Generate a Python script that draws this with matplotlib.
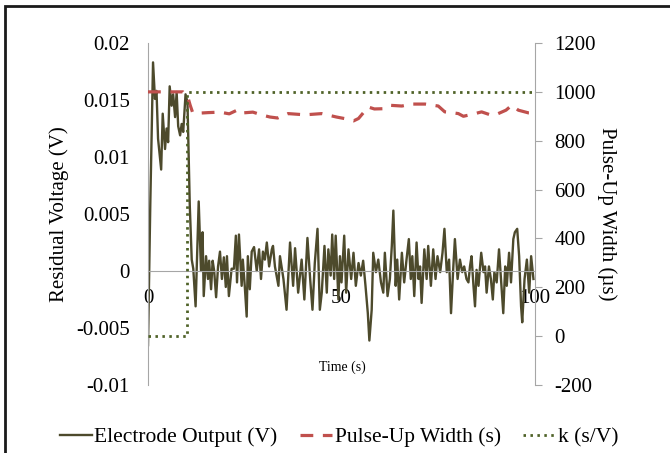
import matplotlib
matplotlib.use("Agg")
import matplotlib.pyplot as plt
from matplotlib.patches import Rectangle

plt.rcParams['font.family'] = ['Liberation Serif', 'DejaVu Serif']
plt.rcParams['axes.unicode_minus'] = False

# electrode output (V)
t_elec = [0.0, 0.6, 1.3, 1.8, 2.2, 2.6, 3.4, 3.8, 4.4, 4.8, 5.2, 5.6, 6.1, 6.5, 7.0, 7.4,
          7.8, 8.3, 8.7, 9.1, 9.7, 10.2, 10.8, 11.3, 11.7, 12.3, 13.1, 13.7, 14.1, 14.4,
          15.0, 15.5, 15.8, 16.3, 16.7, 17.1, 17.6, 18.1, 18.6, 19.1, 19.6, 20.1, 20.4,
          20.9, 21.6, 22.2, 22.7, 23.0, 23.5, 24.2, 24.5, 25.0, 25.5, 25.8, 26.3, 26.8,
          27.4, 28.1, 28.7, 29.2, 29.7, 30.2, 30.7, 31.3, 32.0, 32.3, 32.8, 33.7, 34.1,
          35.0, 35.8, 36.7, 37.5, 38.0, 38.8, 39.7, 40.4, 41.2, 41.9, 42.5, 43.1, 43.8,
          44.4, 44.9, 45.6, 46.2, 46.6, 47.2, 47.6, 48.1, 48.5, 49.2, 49.6, 50.0, 50.7,
          51.2, 51.8, 52.5, 53.1, 53.7, 54.4, 55.0, 55.6, 56.2, 56.8, 57.2, 57.8, 58.2,
          58.9, 59.5, 60.2, 60.8, 61.2, 61.9, 62.5, 63.0, 63.4, 64.0, 64.4, 64.9, 65.6,
          66.2, 66.8, 67.4, 67.9, 68.3, 68.8, 69.4, 69.9, 70.3, 70.7, 71.4, 72.0, 72.4,
          73.1, 73.7, 74.3, 74.8, 75.5, 76.1, 76.6, 77.2, 77.8, 78.3, 78.9, 79.3, 80.0,
          80.6, 81.2, 81.7, 82.3, 82.8, 83.2, 83.6, 84.1, 84.5, 84.9, 85.4, 86.1, 86.7,
          87.1, 87.5, 88.1, 88.6, 89.1, 89.5, 90.1, 90.7, 91.2, 91.8, 92.3, 92.7, 93.3,
          93.8, 94.4, 94.8, 95.4, 95.9, 96.4, 96.7, 97.3, 97.9, 98.5, 99.0, 99.6]
v_elec = [-0.0065, 0.0060, 0.0183, 0.0151, 0.0158, 0.0116, 0.0089, 0.0138, 0.0107, 0.0125,
          0.0113, 0.0162, 0.0145, 0.0155, 0.0135, 0.0157, 0.0127, 0.0119, 0.0129, 0.0122,
          0.0155, 0.0148, 0.0057, 0.0010, 0.0002, -0.0031, 0.0061, 0.0000, 0.0034, -0.0022,
          0.0013, -0.0007, 0.0009, -0.0016, 0.0009, 0.0000, -0.0023, 0.0004, 0.0017, -0.0007,
          0.0012, -0.0014, 0.0013, -0.0022, 0.0002, 0.0002, 0.0031, -0.0010, 0.0032, -0.0013,
          0.0010, -0.0013, -0.0040, 0.0013, -0.0016, 0.0017, 0.0021, 0.0000, 0.0019, -0.0007,
          0.0017, 0.0010, 0.0025, 0.0004, 0.0019, 0.0022, 0.0004, -0.0013, 0.0013, -0.0007,
          -0.0034, 0.0025, -0.0013, 0.0020, -0.0019, 0.0010, -0.0025, 0.0029, -0.0007, -0.0034,
          0.0007, 0.0037, -0.0034, -0.0019, 0.0022, -0.0019, 0.0019, -0.0004, 0.0032, -0.0007,
          0.0031, -0.0025, 0.0013, -0.0010, 0.0031, -0.0019, 0.0019, -0.0007, 0.0016, -0.0013,
          0.0007, -0.0004, 0.0009, -0.0013, -0.0037, -0.0061, -0.0034, 0.0016, -0.0001, 0.0010,
          -0.0010, -0.0019, 0.0016, -0.0022, -0.0007, 0.0022, 0.0053, -0.0013, 0.0010, -0.0025,
          0.0016, -0.0010, 0.0010, 0.0028, -0.0007, 0.0013, -0.0022, 0.0025, -0.0007, 0.0004,
          -0.0028, 0.0019, -0.0007, 0.0022, -0.0013, 0.0019, -0.0007, 0.0013, -0.0001, 0.0016,
          0.0037, -0.0001, 0.0010, -0.0037, 0.0004, 0.0028, -0.0007, 0.0010, -0.0001, 0.0004,
          -0.0007, -0.0010, 0.0004, 0.0013, -0.0013, -0.0031, 0.0001, -0.0013, 0.0016, -0.0001,
          0.0004, -0.0019, 0.0004, -0.0007, -0.0025, -0.0001, -0.0010, 0.0019, -0.0007, -0.0037,
          0.0004, -0.0013, 0.0016, -0.0010, 0.0028, 0.0034, 0.0037, 0.0013, -0.0031, -0.0045,
          -0.0007, 0.0010, -0.0019, 0.0013, -0.0007]

# pulse-up width (us), right axis
t_pulse = [0, 9.0, 10.3, 10.9, 11.5, 13.4, 15.5, 18.6, 21.0, 23.0, 23.8, 27.1, 29.5, 31.5,
           33.5, 36.2, 40.6, 44.9, 48.7, 51.0, 53.1, 54.4, 56.9, 58.5, 60.8, 62.5, 65.6,
           68.1, 71.6, 75.0, 76.7, 78.5, 80.2, 81.5, 84.5, 86.2, 88.8, 90.5, 92.5, 94.0,
           95.7, 98.3, 100]
w_pulse = [1000, 1000, 978, 945, 917, 913, 915, 917, 910, 925, 913, 917, 905, 897,
           893, 911, 906, 911, 897, 890, 881, 891, 938, 930, 931, 945, 942,
           950, 950, 942, 918, 915, 911, 900, 911, 918, 904, 911, 925, 945,
           925, 914, 912]

# k (s/V), right axis
t_k = [0, 10.2, 10.2, 100]
k_vals = [0, 0, 1000, 1000]

xticks = [0, 50, 100]
left_ticks = [0.02, 0.015, 0.01, 0.005, 0, -0.005, -0.01]
left_labels = ['0.02', '0.015', '0.01', '0.005', '0', '-0.005', '-0.01']
right_ticks = [-200, 0, 200, 400, 600, 800, 1000, 1200]

fig = plt.figure(figsize=(6.7, 4.53), dpi=100)
ax = fig.add_axes([148/670, 1-385/453, 387/670, 342/453])
ax2 = ax.twinx()

l1, = ax.plot(t_elec, v_elec, color='#4d4a2c', lw=1.7, label='Electrode Output (V)')
l2, = ax2.plot(t_pulse, w_pulse, color='#c0504d', lw=2.3, linestyle=(0, (4, 3)),
               label='Pulse-Up Width (s)')
l3, = ax2.plot(t_k, k_vals, color='#4f6228', lw=2.0, linestyle=(0, (0.9, 1.6)),
               label='k (s/V)')

ax.set_xlim(0, 100)
ax.set_ylim(-0.01, 0.02)
ax2.set_ylim(-200, 1200)

gray = '#a6a6a6'
ax.spines['top'].set_visible(False)
ax.spines['right'].set_visible(False)
ax.spines['left'].set_color(gray)
ax.spines['bottom'].set_position(('data', 0))
ax.spines['bottom'].set_color(gray)
ax2.spines['top'].set_visible(False)
ax2.spines['left'].set_visible(False)
ax2.spines['bottom'].set_visible(False)
ax2.spines['right'].set_color(gray)

ax.set_xticks(xticks)
ax.set_xticklabels([str(x) for x in xticks])
ax.tick_params(axis='x', length=0, pad=13, labelsize=15)
ax.set_yticks(left_ticks)
ax.set_yticklabels(left_labels)
ax.tick_params(axis='y', length=0, pad=13, labelsize=15)
ax2.set_yticks(right_ticks)
ax2.set_yticklabels([str(v) for v in right_ticks])
ax2.tick_params(axis='y', direction='out', length=5, color=gray, pad=9, labelsize=15)

ax.set_ylabel('Residual Voltage (V)', fontsize=15, labelpad=5)
ax2.set_ylabel('Pulse-Up Width (µs)', fontsize=15, rotation=270, labelpad=15)
ax.text(0.501, (385-367)/342, 'Time (s)', transform=ax.transAxes,
        ha='center', va='center', fontsize=10)

fig.legend(handles=[l1, l2, l3], loc='center', bbox_to_anchor=(0.506, 1-437/453),
           ncol=3, frameon=False, fontsize=15.5, handlelength=1.5,
           handletextpad=0.1, columnspacing=1.05)

fig.patches.append(Rectangle((5/670, -0.2), 1.2, 1-6/453+0.2, transform=fig.transFigure,
                             fill=False, edgecolor='#1a1a1a', lw=2, clip_on=False))

fig.savefig('out.png', dpi=100)
